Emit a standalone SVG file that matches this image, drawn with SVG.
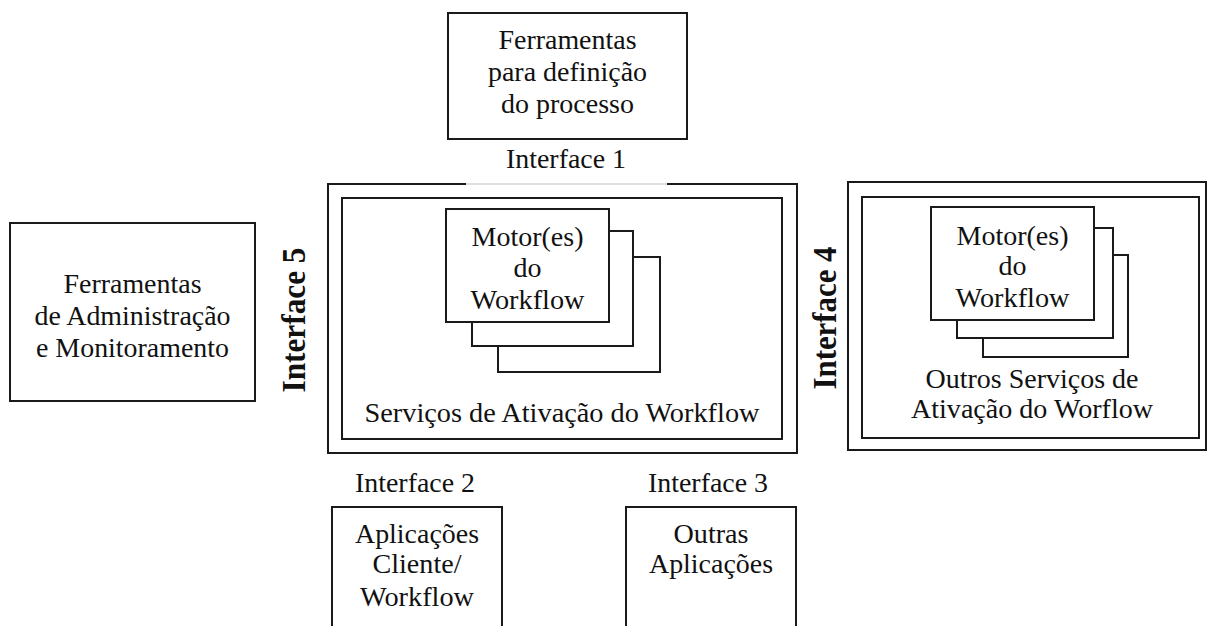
<svg xmlns="http://www.w3.org/2000/svg" width="1208" height="626" viewBox="0 0 1208 626">
<style>
.box{fill:#fff;stroke:#1a1a1a;stroke-width:2}
.ln{fill:none;stroke:#1a1a1a;stroke-width:2}
.t{font-family:"Liberation Serif","Times New Roman",serif;font-size:27px;fill:#111;text-anchor:middle}
.b{font-family:"Liberation Serif","Times New Roman",serif;font-size:34px;font-weight:bold;fill:#111;text-anchor:middle}
</style>
<rect width="1208" height="626" fill="#fff"/>
<g id="tools-definition">
<rect class="box" x="448" y="13" width="239" height="126"/>
<text class="t" x="567.5" y="49" textLength="138" lengthAdjust="spacingAndGlyphs">Ferramentas</text>
<text class="t" x="567.5" y="81" textLength="159" lengthAdjust="spacingAndGlyphs">para definição</text>
<text class="t" x="567.5" y="113" textLength="133" lengthAdjust="spacingAndGlyphs">do processo</text>
</g>
<g id="interface1">
<text class="t" x="566" y="168" textLength="120" lengthAdjust="spacingAndGlyphs">Interface 1</text>
</g>
<g id="enactment-services">
<path class="ln" d="M466,184 H328 V453 H797 V184 H667"/>
<line x1="466" y1="184" x2="667" y2="184" stroke="#d4d4d4" stroke-width="1.5"/>
<rect class="box" x="342" y="198" width="440" height="241"/>
<text class="t" x="562" y="422" textLength="395" lengthAdjust="spacingAndGlyphs">Serviços de Ativação do Workflow</text>
</g>
<g id="engines-left">
<rect class="box" x="498" y="257" width="162" height="115"/>
<rect class="box" x="472" y="231" width="161" height="115"/>
<rect class="box" x="446" y="209" width="163" height="113"/>
<text class="t" x="527.5" y="246" textLength="112" lengthAdjust="spacingAndGlyphs">Motor(es)</text>
<text class="t" x="527.5" y="277" textLength="28" lengthAdjust="spacingAndGlyphs">do</text>
<text class="t" x="527.5" y="309" textLength="114" lengthAdjust="spacingAndGlyphs">Workflow</text>
</g>
<g id="tools-admin">
<rect class="box" x="10" y="223" width="245" height="178"/>
<text class="t" x="132.5" y="293" textLength="138" lengthAdjust="spacingAndGlyphs">Ferramentas</text>
<text class="t" x="132.5" y="325" textLength="196" lengthAdjust="spacingAndGlyphs">de Administração</text>
<text class="t" x="132.5" y="357" textLength="193" lengthAdjust="spacingAndGlyphs">e Monitoramento</text>
</g>
<g id="interface5">
<text class="b" transform="translate(305,320) rotate(-90)" x="0" y="0" textLength="145" lengthAdjust="spacingAndGlyphs">Interface 5</text>
</g>
<g id="interface4">
<text class="b" transform="translate(836,318) rotate(-90)" x="0" y="0" textLength="143" lengthAdjust="spacingAndGlyphs">Interface 4</text>
</g>
<g id="other-enactment-services">
<rect class="box" x="848" y="182" width="358" height="268"/>
<rect class="box" x="862" y="197" width="337" height="241"/>
<text class="t" x="1032" y="388" textLength="213" lengthAdjust="spacingAndGlyphs">Outros Serviços de</text>
<text class="t" x="1032" y="418" textLength="242" lengthAdjust="spacingAndGlyphs">Ativação do Worflow</text>
</g>
<g id="engines-right">
<rect class="box" x="983" y="255" width="145" height="102"/>
<rect class="box" x="957" y="228" width="156" height="110"/>
<rect class="box" x="931" y="207" width="163" height="113"/>
<text class="t" x="1012.5" y="245" textLength="112" lengthAdjust="spacingAndGlyphs">Motor(es)</text>
<text class="t" x="1012.5" y="275" textLength="28" lengthAdjust="spacingAndGlyphs">do</text>
<text class="t" x="1012.5" y="307" textLength="114" lengthAdjust="spacingAndGlyphs">Workflow</text>
</g>
<g id="interface2">
<text class="t" x="415" y="492" textLength="120" lengthAdjust="spacingAndGlyphs">Interface 2</text>
</g>
<g id="interface3">
<text class="t" x="708" y="492" textLength="120" lengthAdjust="spacingAndGlyphs">Interface 3</text>
</g>
<g id="client-apps">
<path class="ln" d="M332,630 V507 H502 V630"/>
<text class="t" x="417" y="543" textLength="124" lengthAdjust="spacingAndGlyphs">Aplicações</text>
<text class="t" x="417" y="573" textLength="89" lengthAdjust="spacingAndGlyphs">Cliente/</text>
<text class="t" x="417" y="606" textLength="114" lengthAdjust="spacingAndGlyphs">Workflow</text>
</g>
<g id="other-apps">
<path class="ln" d="M626,630 V507 H796 V630"/>
<text class="t" x="711" y="543" textLength="75" lengthAdjust="spacingAndGlyphs">Outras</text>
<text class="t" x="711" y="573" textLength="124" lengthAdjust="spacingAndGlyphs">Aplicações</text>
</g>
<g id="connectors"/>
</svg>
